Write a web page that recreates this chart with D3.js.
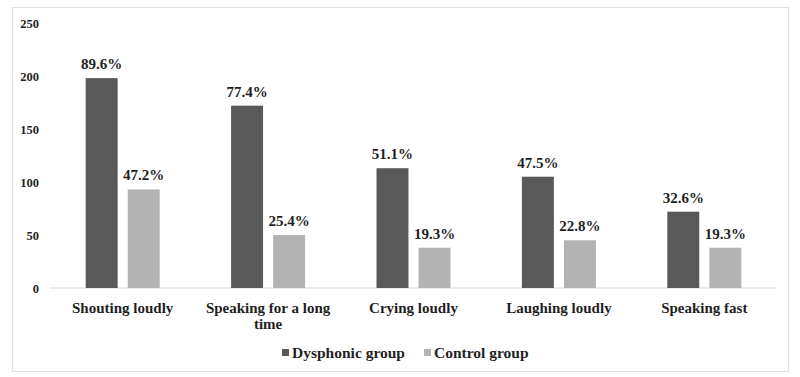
<!DOCTYPE html>
<html>
<head>
<meta charset="utf-8">
<script src="https://cdn.jsdelivr.net/npm/d3@7"></script>
<style>
  body { margin: 0; background: #fff; }
  text { font-family: "Liberation Serif", "Times New Roman", serif; font-weight: bold; fill: #1f1f1f; }
</style>
</head>
<body>
<svg id="chart" width="800" height="377"></svg>
<script>
// data
const categories = ["Shouting loudly", "Speaking for a long time", "Crying loudly", "Laughing loudly", "Speaking fast"];
const seriesNames = ["Dysphonic group", "Control group"];
const dysphonicValues = [198, 172, 113, 105, 72];
const controlValues = [93, 50, 38, 45, 38];
const dysphonicLabels = ["89.6%", "77.4%", "51.1%", "47.5%", "32.6%"];
const controlLabels = ["47.2%", "25.4%", "19.3%", "22.8%", "19.3%"];
const yTicks = [0, 50, 100, 150, 200, 250];

const colors = ["#595959", "#b3b3b3"];

const svg = d3.select("#chart");

// frame
svg.append("rect")
  .attr("x", 12.5).attr("y", 7.5)
  .attr("width", 776).attr("height", 364)
  .attr("fill", "none")
  .attr("stroke", "#e0e0e0");

const xScale = d3.scaleBand()
  .domain(categories)
  .range([50, 777]);

const subScale = d3.scaleBand()
  .domain(seriesNames)
  .range([0, 74])
  .paddingInner(0.24);

const yScale = d3.scaleLinear()
  .domain([0, 250])
  .range([288, 23]);

// y-axis, labels only
const yAxis = svg.append("g")
  .attr("transform", "translate(39,0)")
  .call(d3.axisLeft(yScale).tickValues(yTicks).tickSize(0).tickPadding(0));
yAxis.select(".domain").remove();
yAxis.selectAll("text").attr("font-size", 12.5);

// baseline
svg.append("line")
  .attr("x1", 50).attr("x2", 777)
  .attr("y1", yScale(0)).attr("y2", yScale(0))
  .attr("stroke", "#d9d9d9");

const rows = categories.map((c, i) => ({
  category: c,
  bars: [
    { series: seriesNames[0], value: dysphonicValues[i], label: dysphonicLabels[i] },
    { series: seriesNames[1], value: controlValues[i], label: controlLabels[i] }
  ]
}));

const groups = svg.selectAll("g.group")
  .data(rows)
  .enter()
  .append("g")
  .attr("class", "group")
  .attr("transform", d => `translate(${xScale(d.category) + xScale.bandwidth() / 2 - 37},0)`);

groups.selectAll("rect")
  .data(d => d.bars)
  .enter()
  .append("rect")
  .attr("x", d => subScale(d.series))
  .attr("y", d => yScale(d.value))
  .attr("width", subScale.bandwidth())
  .attr("height", d => yScale(0) - yScale(d.value))
  .attr("fill", (d, i) => colors[i]);

groups.selectAll("text.val")
  .data(d => d.bars)
  .enter()
  .append("text")
  .attr("class", "val")
  .attr("x", d => subScale(d.series) + subScale.bandwidth() / 2)
  .attr("y", d => yScale(d.value) - 9)
  .attr("text-anchor", "middle")
  .attr("font-size", 15)
  .text(d => d.label);

// category labels (wrapped)
function wrapLabel(text) {
  const words = text.split(" ");
  const lines = [];
  let cur = "";
  words.forEach(w => {
    const test = cur ? cur + " " + w : w;
    if (test.length > 19 && cur) { lines.push(cur); cur = w; }
    else cur = test;
  });
  lines.push(cur);
  return lines;
}

categories.forEach(c => {
  const t = svg.append("text")
    .attr("x", xScale(c) + xScale.bandwidth() / 2)
    .attr("y", 313)
    .attr("text-anchor", "middle")
    .attr("font-size", 15);
  wrapLabel(c).forEach((line, i) => {
    t.append("tspan")
      .attr("x", xScale(c) + xScale.bandwidth() / 2)
      .attr("dy", i === 0 ? 0 : 16)
      .text(line);
  });
});

// legend
const legendX = [282, 424];
seriesNames.forEach((name, i) => {
  svg.append("rect")
    .attr("x", legendX[i]).attr("y", 349)
    .attr("width", 7).attr("height", 7)
    .attr("fill", colors[i]);
  svg.append("text")
    .attr("x", legendX[i] + 10)
    .attr("y", 358)
    .attr("font-size", 15.5)
    .text(name);
});
</script>
</body>
</html>
